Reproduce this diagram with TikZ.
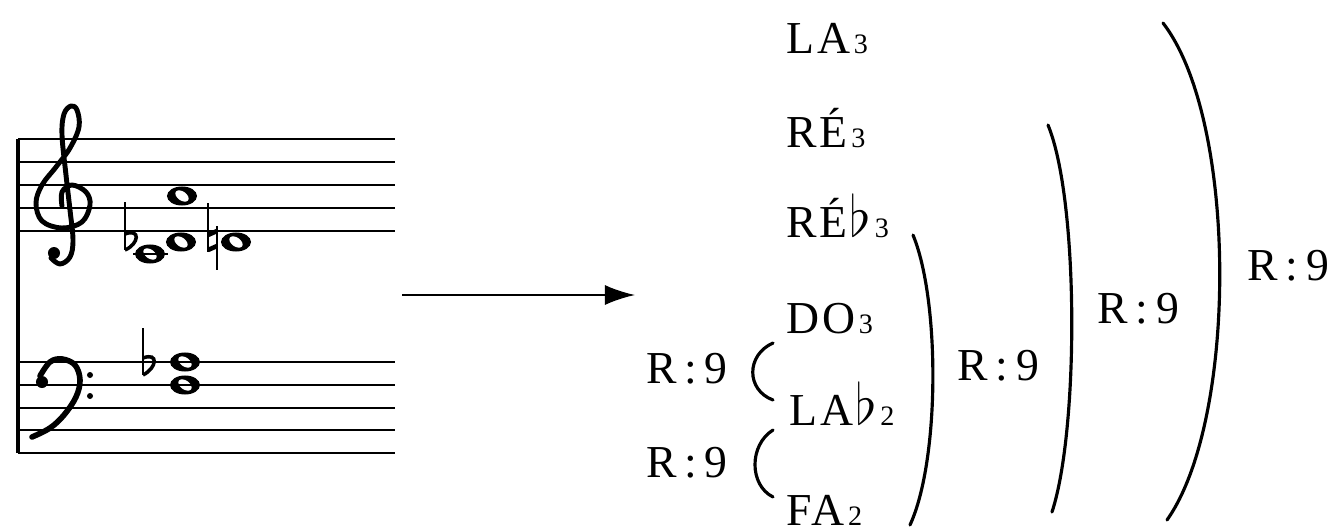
\documentclass[tikz,border=0pt]{standalone}
\usepackage{fontspec}
\newfontfamily\notefont{Liberation Serif}[LetterSpace=6]
\usetikzlibrary{arrows.meta}
\newcommand{\oct}[1]{\kern1pt{\fontsize{8}{8}\selectfont #1}}
\newcommand{\fl}{\kern0.5pt\raisebox{0.2pt}{\scalebox{1.35}{$\flat$}}}

\begin{document}
\begin{tikzpicture}[x=0.01cm, y=-0.01cm, >={Latex[length=3mm,width=2mm]}]
    % Styles
    \tikzstyle{pitch} = [anchor=base west, inner sep=0pt, font=\notefont\fontsize{13}{15}\selectfont]
    \tikzstyle{ratio} = [pitch]
    \tikzstyle{staffline} = [line width=0.55pt]
    \tikzstyle{paren} = [line width=0.9pt, line cap=round]
    \tikzstyle{glyph} = [line width=1.4pt, line cap=round, line join=round]
    \tikzstyle{line} = [draw, ->, line width=0.6pt]
    \tikzset{wholenote/.pic={
        \fill (0,0) ellipse [x radius=1.5mm, y radius=0.95mm];
        \fill[white, rotate=-35] (0,0) ellipse [x radius=0.75mm, y radius=0.45mm];}}

    \useasboundingbox (0,0) rectangle (1338,530);

    % Notes (drawn first, staff lines go over them)
    \pic at (182,196) {wholenote};
    \pic at (150,254) {wholenote};
    \pic at (181,242) {wholenote};
    \pic at (236,242) {wholenote};
    \pic at (185,362) {wholenote};
    \pic at (185,385) {wholenote};

    % Staff
    \foreach \y in {139,162,185,208,231,362,385,408,430,453}
        \draw[staffline] (18,\y) -- (395,\y);
    \draw[line width=1pt] (18,139) -- (18,453);
    \draw[staffline] (133,254) -- (168,254);

    % Clefs
    \draw[glyph] plot[smooth, tension=0.6] coordinates {(62,206) (62,192) (72,185) (86,192) (90,205) (82,222) (62,228) (42,221) (36,203) (42,185) (56,167) (70,148) (79,127) (77,110) (71,106) (64,114) (62,135) (66,175) (70,210) (73,240) (70,257) (60,264) (51,258)};
    \fill (54,253) circle [radius=0.6mm];
    \draw[glyph, line width=1.6pt] plot[smooth, tension=0.6] coordinates {(40,376) (50,362) (62,359) (75,365) (80,380) (76,397) (64,415) (50,428) (32,437)};
    \fill (42,382) circle [radius=0.6mm];
    \fill (90,375) circle [radius=0.3mm];
    \fill (90,396) circle [radius=0.3mm];

    % Accidentals
    \draw[line width=0.6pt] (125,202) -- (125,250);
    \draw[line width=1pt] (125,250) .. controls (139,244) and (141,228) .. (125,234);
    \draw[line width=0.6pt] (143,328) -- (143,375);
    \draw[line width=1pt] (143,375) .. controls (157,368) and (159,352) .. (143,358);
    \draw[line width=0.6pt] (208,203) -- (208,252) (217,226) -- (217,270);
    \draw[line width=1.3pt] (208,235) -- (217,231) (208,250) -- (217,246);

    % Arrow
    \coordinate (src) at (402,295);
    \coordinate (dst) at (635,295);
    \draw[line] (src) -- (dst);

    % Pitches
    \node[pitch] (la3) at (786,53) {LA\oct{3}};
    \node[pitch] (re3) at (786,147) {RÉ\oct{3}};
    \node[pitch] (reb3) at (786,237) {RÉ\fl\oct{3}};
    \node[pitch] (do3) at (786,333) {DO\oct{3}};
    \node[pitch] (lab2) at (789,425) {LA\fl\oct{2}};
    \node[pitch] (fa2) at (786,525) {FA\oct{2}};

    % Ratios
    \node[ratio, anchor=base east] (rdo) at (728,383) {R\,:\,9};
    \node[ratio, anchor=base east] (rlab) at (728,477) {R\,:\,9};
    \node[ratio] (rreb) at (957,380) {R\,:\,9};
    \node[ratio] (rre) at (1097,323) {R\,:\,9};
    \node[ratio] (rla) at (1247,280) {R\,:\,9};

    % Brackets
    \draw[paren] (773,343) .. controls (746,355) and (746,390) .. (773,400);
    \draw[paren] (773,430) .. controls (749,445) and (749,485) .. (773,497);
    \draw[paren] (913,235) .. controls (940,300) and (940,460) .. (910,525);
    \draw[paren] (1048,125) .. controls (1079,200) and (1079,430) .. (1052,512);
    \draw[paren] (1163,23) .. controls (1238,120) and (1238,420) .. (1167,520);
\end{tikzpicture}
\end{document}
